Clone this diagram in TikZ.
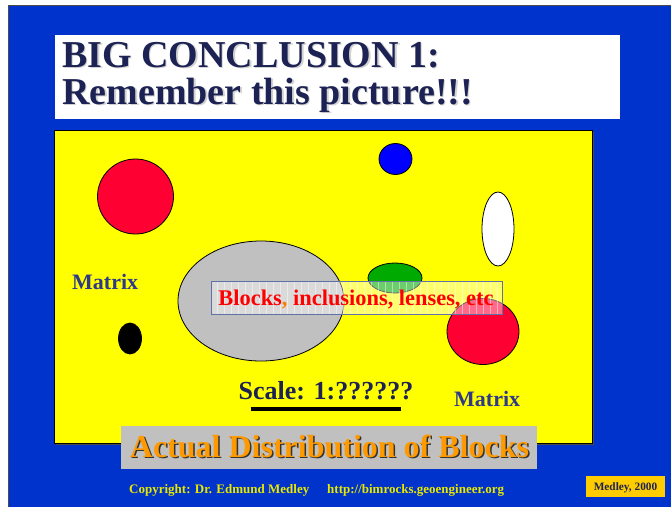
\documentclass[tikz,border=0pt]{standalone}
\usepackage{fontspec}
\setmainfont{Liberation Serif}
\definecolor{bgblue}{HTML}{0033CC}
\definecolor{navy}{HTML}{1C2253}
\definecolor{matrixblue}{HTML}{2E3A87}
\definecolor{blockred}{HTML}{FF0033}
\definecolor{pureblue}{HTML}{0000FF}
\definecolor{green}{HTML}{00AA00}
\definecolor{lgray}{HTML}{C0C0C0}
\definecolor{orange}{HTML}{FF9900}
\definecolor{gold}{HTML}{FFCC00}
\definecolor{cyellow}{HTML}{E8E800}
\definecolor{boxedge}{HTML}{6070A8}
\definecolor{fieldyellow}{HTML}{FFFF00}
\newcommand{\shadowtext}[4]{\rlap{\kern#3\raisebox{-#3}{\textcolor{#2}{#4}}}\textcolor{#1}{#4}}
\tikzset{
  blob/.style={draw=black, line width=0.8},
  txt/.style={inner sep=0, anchor=base},
}
\begin{document}
\begin{tikzpicture}[x=1pt,y=-1pt]
\useasboundingbox (0,0) rectangle (671,507);
\fill[white] (0,0) rectangle (671,507);
\fill[bgblue] (8,5) rectangle (671,507);
\draw[gray!60!black, line width=1] (8,507) -- (8,5) -- (671,5);
% title
\fill[white] (55,35) rectangle (620,119);
\begin{scope}[font=\fontsize{38}{38}\selectfont\bfseries]
\node[txt, anchor=base west] (t1) at (62,67) {\shadowtext{navy}{gray!35}{1.5pt}{BIG CONCLUSION 1:}};
\node[txt, anchor=base west] (t2) at (62,104) {\shadowtext{navy}{gray!35}{1.5pt}{Remember this picture!!!}};
\end{scope}
% yellow field
\fill[black!70] (56,132) rectangle (594,445);
\draw[fill=fieldyellow, draw=black, line width=0.8] (54,130) rectangle (592,443);
% blobs
\draw[blob, fill=blockred] (135.5,196.5) ellipse [x radius=38, y radius=37.5];
\draw[blob, fill=pureblue] (395.5,159) ellipse [x radius=16.5, y radius=15.5];
\draw[blob, fill=white] (498,229) ellipse [x radius=16, y radius=37];
\draw[blob, fill=lgray] (261,301) ellipse [x radius=83, y radius=60];
\draw[blob, fill=green] (395,278) ellipse [x radius=27, y radius=15];
\draw[blob, fill=blockred] (483,331.5) ellipse [x radius=36, y radius=33];
\draw[blob, fill=black] (130,338.5) ellipse [x radius=11.5, y radius=15.5];
% label box
\fill[white, opacity=0.42] (211,281) rectangle (502,314);
\begin{scope}
\clip (211,281) rectangle (502,314);
\draw[white, opacity=0.45, line width=0.5, step=7] (211,281) grid (502,314);
\end{scope}
\draw[boxedge, line width=0.9] (211,281) rectangle (502,314);
\node[txt, text=red, font=\fontsize{22.4}{22.4}\selectfont\bfseries] (lbl) at (356,305)
  {Blocks\textcolor{orange!80!red}{,} inclusions, lenses, etc};
% matrix labels
\node[txt, anchor=base west, text=matrixblue, font=\fontsize{22}{22}\selectfont\bfseries] (m1) at (72,289) {Matrix};
\node[txt, anchor=base west, text=matrixblue, font=\fontsize{22}{22}\selectfont\bfseries] (m2) at (454,406) {Matrix};
% scale
\node[txt, text=navy, font=\fontsize{26}{26}\selectfont\bfseries] (sc) at (326,399) {Scale: 1:??????};
\draw[black, line width=4] (250.5,409) -- (401,409);
% caption
\fill[lgray] (121,426) rectangle (537,469);
\node[txt, font=\fontsize{32}{32}\selectfont\bfseries] (cap) at (329.5,457)
  {\shadowtext{orange}{black!80}{1.5pt}{Actual Distribution of Blocks}};
% footer
\node[txt, anchor=base west, text=cyellow, font=\fontsize{13}{13}\selectfont\bfseries] (cp) at (129,493) {Copyright: Dr. Edmund Medley};
\node[txt, anchor=base west, text=cyellow, font=\fontsize{13}{13}\selectfont\bfseries] (url) at (327,493) {http://bimrocks.geoengineer.org};
\fill[gold] (586,476) rectangle (665,497);
\node[txt, text=navy, font=\fontsize{11.3}{11.3}\selectfont\bfseries] (md) at (625.5,490.5) {Medley, 2000};
\end{tikzpicture}
\end{document}
